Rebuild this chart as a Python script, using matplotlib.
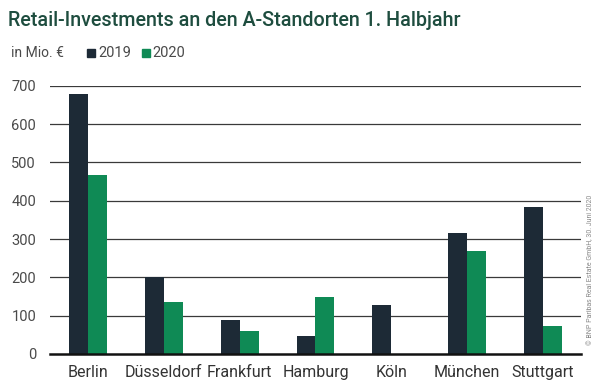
import numpy as np
import matplotlib
matplotlib.use("Agg")
import matplotlib.pyplot as plt
from matplotlib.patches import Rectangle

# data
cities = ["Berlin", "Düsseldorf", "Frankfurt", "Hamburg", "Köln", "München", "Stuttgart"]
values_2019 = [678, 200, 90, 47, 127, 315, 384]
values_2020 = [468, 135, 59, 149, 0, 270, 74]
yticks = [0, 100, 200, 300, 400, 500, 600, 700]

dark = "#1d2a36"
green = "#0f8a55"
title_color = "#1e4d3f"
text_color = "#4a4a4a"

plt.rcParams['font.family'] = ['Roboto', 'DejaVu Sans']

fig = plt.figure(figsize=(6, 3.81), dpi=100)
fig.patch.set_facecolor("white")
ax = fig.add_axes([0.0833, 0.0709, 0.885, 0.704])

x = np.arange(len(cities))
w = 0.25
ax.bar(x - w / 2, values_2019, width=w, color=dark, zorder=3)
ax.bar(x + w / 2, values_2020, width=w, color=green, zorder=3)

ax.set_xlim(-0.5, 6.5)
ax.set_ylim(0, 700)
ax.set_yticks(yticks)
ax.set_yticklabels([str(v) for v in yticks], fontsize=10.5, color=text_color)
ax.set_xticks(x)
ax.set_xticklabels(cities, fontsize=11.5, color="#333333")
ax.tick_params(axis="both", length=0)
ax.tick_params(axis="y", pad=10)
ax.tick_params(axis="x", pad=8)
for lbl in ax.get_yticklabels():
    lbl.set_horizontalalignment("right")

for v in yticks[1:]:
    ax.axhline(v, color="#3a3a3a", linewidth=0.9, zorder=1)

for s in ["top", "right", "left"]:
    ax.spines[s].set_visible(False)
ax.spines["bottom"].set_color("#111111")
ax.spines["bottom"].set_linewidth(1.8)
ax.spines["bottom"].set_zorder(4)

# title and header legend
fig.text(8 / 600, 1 - 21 / 381, "Retail-Investments an den A-Standorten 1. Halbjahr",
         fontsize=14.2, fontweight="medium", color=title_color, va="center", ha="left")
fig.text(11 / 600, 1 - 53 / 381, "in Mio. €", fontsize=10, color=text_color, va="center", ha="left")
fig.patches.append(Rectangle((87 / 600, 1 - 57 / 381), 8 / 600, 8 / 381,
                             transform=fig.transFigure, color=dark))
fig.text(98 / 600, 1 - 53 / 381, "2019", fontsize=10.5, color=text_color, va="center", ha="left")
fig.patches.append(Rectangle((142 / 600, 1 - 57 / 381), 8 / 600, 8 / 381,
                             transform=fig.transFigure, color=green))
fig.text(152 / 600, 1 - 53 / 381, "2020", fontsize=10.5, color=text_color, va="center", ha="left")

fig.text(591 / 600, 1 - 270 / 381, "© BNP Paribas Real Estate GmbH, 30. Juni 2020",
         fontsize=5, color="#888888", rotation=90, va="center", ha="center")

fig.savefig("out.png", dpi=100)
